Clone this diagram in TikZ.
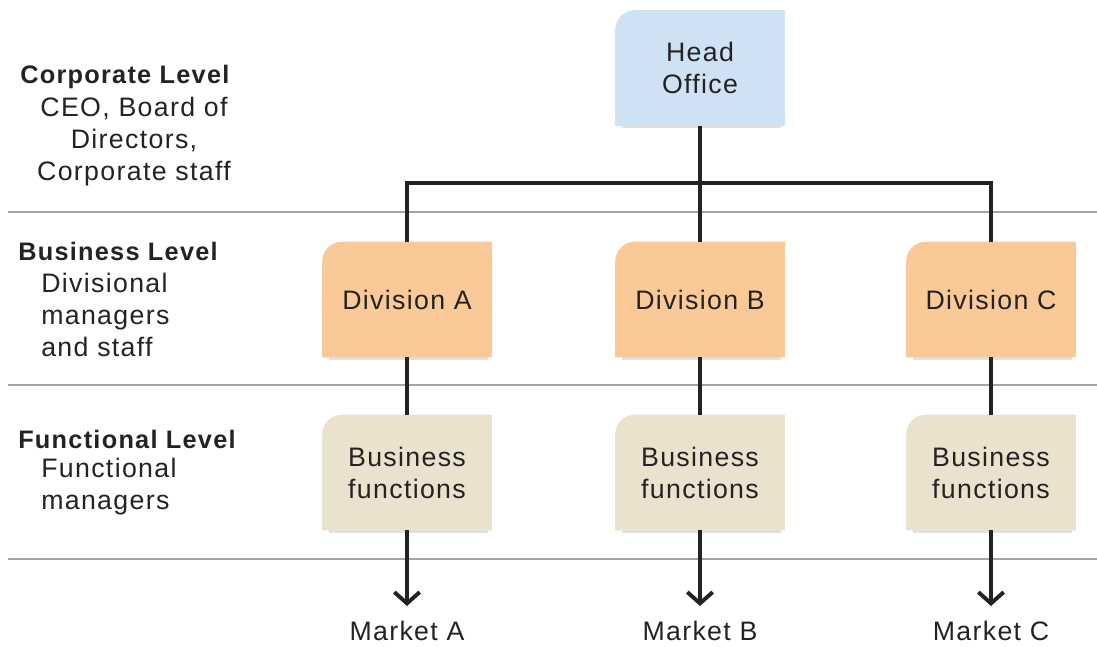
\documentclass[tikz,border=0pt]{standalone}
\usepackage{fontspec}
\setmainfont{Liberation Sans}[LetterSpace=5]
\usetikzlibrary{arrows.meta,backgrounds}
\definecolor{headblue}{RGB}{207,226,243}
\definecolor{divorange}{RGB}{249,201,152}
\definecolor{funcbeige}{RGB}{234,226,204}
\definecolor{sepgray}{RGB}{165,165,165}
\definecolor{ink}{RGB}{35,35,35}
\tikzset{
  orgbox/.style={shape=rectangle,minimum width=4.225cm,minimum height=2.875cm,inner sep=0pt,align=center,text=ink},
  lvltext/.style={anchor=west,align=left,inner sep=0pt,text=ink},
  lvlhead/.style={lvltext,font=\fontsize{18}{22.8}\selectfont\bfseries},
  conn/.style={draw=ink,line width=2.6pt},
  sep/.style={draw=sepgray,line width=1.5pt},
  tip/.style={-{Straight Barb[length=8pt,width=18pt,line width=2.8pt]}}
}
% fill behind a box, only the top left corner is round
\newcommand\boxfill[2]{%
  \fill[black!12] ([xshift=5pt,yshift=-1.8pt]#1.south west) rectangle ([xshift=-3pt,yshift=0.5pt]#1.south east);
  \fill[#2] (#1.south west) -- ([yshift=-14pt]#1.north west) arc[start angle=180,end angle=90,radius=14pt] -- (#1.north east) -- (#1.south east) -- cycle;}
\begin{document}
\begin{tikzpicture}[x=0.025cm,y=-0.025cm,font=\fontsize{19}{22.8}\selectfont]
\useasboundingbox (0,0) rectangle (1097,646);
\draw[sep] (8,212) -- (1097,212);
\draw[sep] (8,385) -- (1097,385);
\draw[sep] (8,559) -- (1097,559);

\node[lvlhead] (corp) at (20,77) {Corporate Level};
\node[lvltext,anchor=center,align=center] (corpsub) at (134,142) {CEO, Board of\\Directors,\\Corporate staff};
\node[lvlhead] (bus) at (18,251) {Business Level};
\node[lvltext] (bussub) at (41,315) {Divisional\\managers\\and staff};
\node[lvlhead] (func) at (18,439) {Functional Level};
\node[lvltext] (funcsub) at (41,487) {Functional\\managers};

\node[orgbox] (head) at (700,68) {Head\\Office};
\node[orgbox] (A) at (407,299.5) {Division A};
\node[orgbox] (B) at (700,299.5) {Division B};
\node[orgbox] (C) at (991,299.5) {Division C};
\node[orgbox] (fA) at (407,472.5) {Business\\functions};
\node[orgbox] (fB) at (700,472.5) {Business\\functions};
\node[orgbox] (fC) at (991,472.5) {Business\\functions};
\node[text=ink] (mA) at (407,631) {Market A};
\node[text=ink] (mB) at (700,631) {Market B};
\node[text=ink] (mC) at (991,631) {Market C};
\coordinate (hub) at (700,183);
\coordinate (tA) at (407,606);
\coordinate (tB) at (700,606);
\coordinate (tC) at (991,606);

\begin{scope}[on background layer]
\boxfill{head}{headblue}
\boxfill{A}{divorange}
\boxfill{B}{divorange}
\boxfill{C}{divorange}
\boxfill{fA}{funcbeige}
\boxfill{fB}{funcbeige}
\boxfill{fC}{funcbeige}
\end{scope}

\path [conn] (head) edge (B);
\draw [conn] (A.north) |- (hub) -| (C.north);
\path [conn] (A) edge (fA);
\path [conn] (B) edge (fB);
\path [conn] (C) edge (fC);
\draw [conn,tip] (fA.south) -- (tA);
\draw [conn,tip] (fB.south) -- (tB);
\draw [conn,tip] (fC.south) -- (tC);
\end{tikzpicture}
\end{document}
